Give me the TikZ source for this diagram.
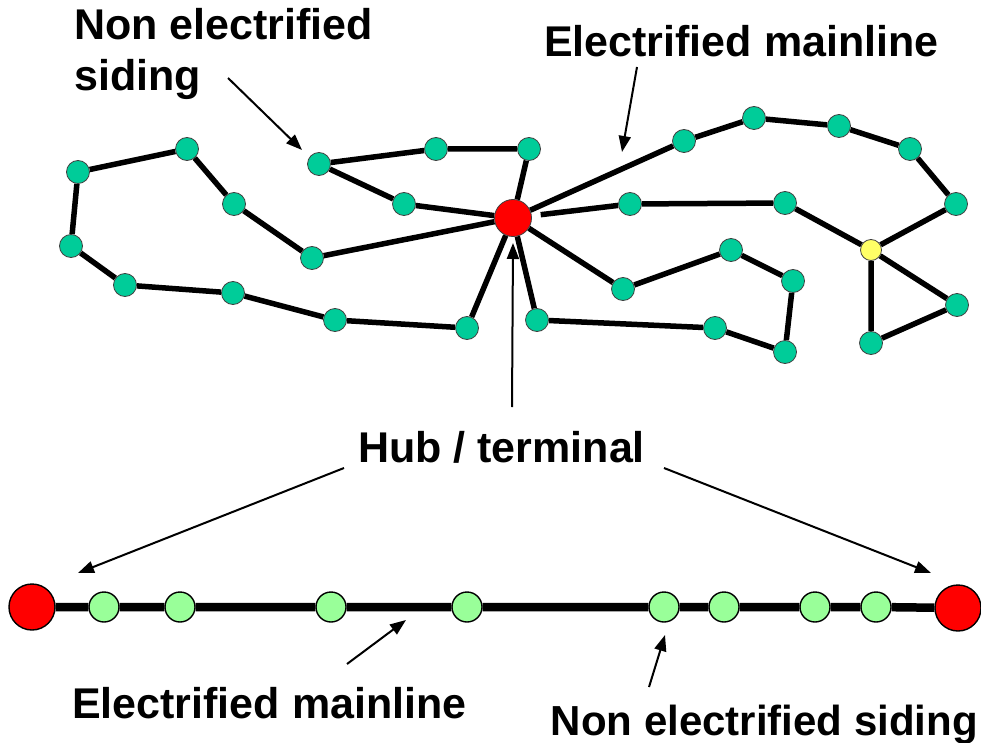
\documentclass[tikz,border=0pt]{standalone}
\usepackage{fontspec}
\setmainfont{Liberation Sans}
\usetikzlibrary{arrows.meta,backgrounds}
\definecolor{stteal}{HTML}{00CC99}
\definecolor{hubred}{HTML}{FF0000}
\definecolor{junyel}{HTML}{FFFF66}
\definecolor{lgreen}{HTML}{99FF99}
\begin{document}
\begin{tikzpicture}[x=1pt,y=-1pt,
  stn/.style={circle,draw=black!75,line width=0.8pt,fill=stteal,minimum size=23pt,inner sep=0pt},
  hubn/.style={circle,draw=black!75,line width=0.8pt,fill=hubred,minimum size=37pt,inner sep=0pt},
  jn/.style={circle,draw=black!75,line width=0.8pt,fill=junyel,minimum size=21pt,inner sep=0pt},
  bst/.style={circle,draw=black,line width=1.4pt,fill=lgreen,minimum size=30pt,inner sep=0pt},
  bhub/.style={circle,draw=black,line width=1.4pt,fill=hubred,minimum size=46pt,inner sep=0pt},
  track/.style={line width=5.5pt},
  btrack/.style={line width=8.5pt},
  lbl/.style={font=\bfseries\fontsize{43}{50}\selectfont,inner sep=0pt,anchor=base west},
  pointer/.style={line width=2pt,-{Triangle[length=16pt,width=12pt]}}]
\useasboundingbox (0,0) rectangle (981,743);

% ---- top network ----
\node[hubn] (hub) at (513,218) {};
\node[stn] (a1) at (187,149) {};
\node[stn] (a2) at (78,172) {};
\node[stn] (a3) at (71,246) {};
\node[stn] (a4) at (125,285) {};
\node[stn] (a5) at (233,293) {};
\node[stn] (a6) at (335,320) {};
\node[stn] (a7) at (467,328) {};
\node[stn] (b1) at (234,204) {};
\node[stn] (b2) at (312,258) {};
\node[stn] (c1) at (319,164) {};
\node[stn] (c2) at (436,149) {};
\node[stn] (c3) at (529,149) {};
\node[stn] (c4) at (404,204) {};
\node[stn] (e1) at (684,141) {};
\node[stn] (e2) at (754,118) {};
\node[stn] (e3) at (839,126) {};
\node[stn] (e4) at (910,149) {};
\node[stn] (e5) at (956,204) {};
\node[jn]  (y)  at (871,250) {};
\node[stn] (f1) at (630,204) {};
\node[stn] (f2) at (785,203) {};
\node[stn] (g1) at (623,289) {};
\node[stn] (g2) at (731,250) {};
\node[stn] (g3) at (793,281) {};
\node[stn] (g4) at (785,352) {};
\node[stn] (g5) at (715,328) {};
\node[stn] (d1) at (537,320) {};
\node[stn] (t1) at (957,305) {};
\node[stn] (t2) at (871,343) {};

\begin{scope}[on background layer]
\draw[track] (hub) -- (a7) -- (a6) -- (a5) -- (a4) -- (a3) -- (a2) -- (a1) -- (b1) -- (b2) -- (hub);
\draw[track] (hub) -- (c4) -- (c1) -- (c2) -- (c3) -- (hub);
\draw[track] (hub) -- (e1) -- (e2) -- (e3) -- (e4) -- (e5) -- (y);
\draw[track,shorten <=9pt] (hub) -- (f1);
\draw[track] (f1) -- (f2) -- (y);
\draw[track] (hub) -- (g1) -- (g2) -- (g3) -- (g4) -- (g5) -- (d1) -- (hub);
\draw[track] (y) -- (t1) -- (t2) -- (y);
\end{scope}

% ---- bottom line ----
\node[bhub] (bl) at (32,607) {};
\node[bst] (s1) at (104,607) {};
\node[bst] (s2) at (180,607) {};
\node[bst] (s3) at (331,607) {};
\node[bst] (s4) at (467,607) {};
\node[bst] (s5) at (664,607) {};
\node[bst] (s6) at (724,607) {};
\node[bst] (s7) at (815,607) {};
\node[bst] (s8) at (876,607) {};
\node[bhub] (br) at (958,608) {};
\begin{scope}[on background layer]
\draw[btrack] (bl) -- (s1) -- (s2) -- (s3) -- (s4) -- (s5) -- (s6) -- (s7) -- (s8) -- (br);
\end{scope}

% ---- labels ----
\node[lbl] (nes1) at (74,40) {Non electrified};
\node[lbl] (nes2) at (74,91) {siding};
\node[lbl] (em1) at (544,57) {Electrified mainline};
\node[lbl] (hubt) at (358,462) {Hub / terminal};
\node[lbl] (em2) at (72,718) {Electrified mainline};
\node[lbl,font=\bfseries\fontsize{42}{50}\selectfont,anchor=base east] (nes3) at (978,735) {Non electrified siding};

% ---- pointers ----
\coordinate (p1s) at (228,78);  \coordinate (p1e) at (302,150);
\coordinate (p2s) at (637,67);  \coordinate (p2e) at (622,152);
\coordinate (p3s) at (512,407); \coordinate (p3e) at (513,243);
\coordinate (p4s) at (344,468); \coordinate (p4e) at (78,573);
\coordinate (p5s) at (664,468); \coordinate (p5e) at (931,573);
\coordinate (p6s) at (347,664); \coordinate (p6e) at (406,620);
\coordinate (p7s) at (649,687); \coordinate (p7e) at (665,635);
\draw[pointer] (p1s) -- (p1e);
\draw[pointer] (p2s) -- (p2e);
\draw[pointer] (p3s) -- (p3e);
\draw[pointer] (p4s) -- (p4e);
\draw[pointer] (p5s) -- (p5e);
\draw[pointer] (p6s) -- (p6e);
\draw[pointer] (p7s) -- (p7e);
\end{tikzpicture}
\end{document}
